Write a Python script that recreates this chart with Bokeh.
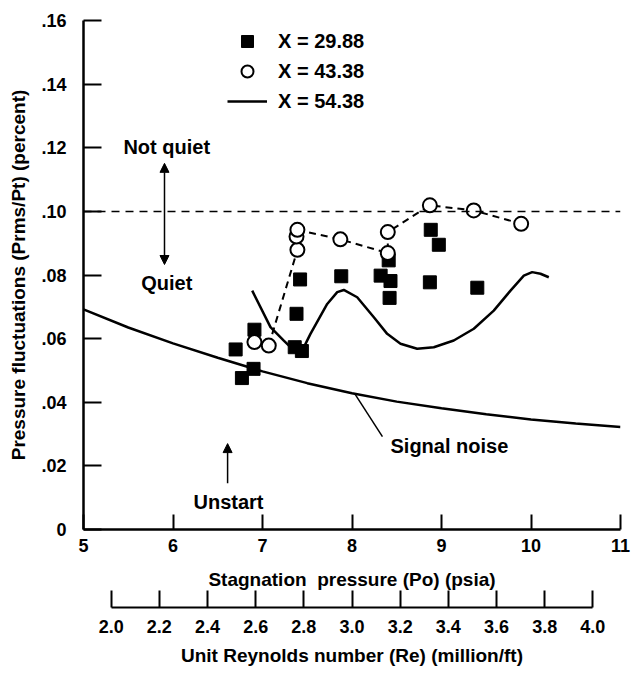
from bokeh.plotting import figure
from bokeh.models import (Range1d, LinearAxis, FixedTicker, CustomJSTickFormatter,
                          PrintfTickFormatter, Span, Label, Arrow, NormalHead,
                          Legend, LegendItem, Title)
from bokeh.layouts import column
from bokeh.embed import file_html
from bokeh.resources import INLINE

# ---------------- data ----------------
# X = 29.88 (filled squares)
sq_x = [6.70, 6.91, 6.90, 6.77, 7.36, 7.44, 7.38, 7.42, 7.88, 8.32, 8.43, 8.42, 8.41, 8.88, 8.97, 8.87, 9.40]
sq_y = [0.0566, 0.0628, 0.0505, 0.0476, 0.0573, 0.0561, 0.0678, 0.0786, 0.0796, 0.0798, 0.0781,
        0.0728, 0.0846, 0.0942, 0.0895, 0.0777, 0.0760]

# X = 43.38 (open circles)
cir_x = [6.91, 7.07, 7.39, 7.38, 7.39, 7.87, 8.40, 8.40, 8.87, 9.36, 9.89]
cir_y = [0.0589, 0.0578, 0.0879, 0.0921, 0.0942, 0.0912, 0.0869, 0.0935, 0.1019, 0.1003, 0.0961]

# X = 54.38 (solid curve)
c54_x = [6.885, 7.089, 7.238, 7.350, 7.425, 7.536, 7.723, 7.835, 7.908, 8.058, 8.244, 8.393,
         8.542, 8.728, 8.914, 9.137, 9.361, 9.584, 9.771, 9.920, 10.013, 10.106, 10.199]
c54_y = [0.0751, 0.0636, 0.0594, 0.0563, 0.0552, 0.0615, 0.0709, 0.0746, 0.0753, 0.0730, 0.0667,
         0.0615, 0.0584, 0.0568, 0.0573, 0.0594, 0.0631, 0.0688, 0.0751, 0.0798, 0.0809, 0.0804, 0.0793]

# Signal noise curve
sig_x = [5.0, 5.5, 6.0, 6.5, 7.0, 7.5, 8.0, 8.5, 9.0, 9.5, 10.0, 10.5, 11.0]
sig_y = [0.0692, 0.0635, 0.0585, 0.0540, 0.0497, 0.0460, 0.0428, 0.0402, 0.0381, 0.0362,
         0.0346, 0.0333, 0.0322]

quiet_limit = 0.10

p_ticks = [5, 6, 7, 8, 9, 10, 11]
y_ticks = [0, 0.02, 0.04, 0.06, 0.08, 0.10, 0.12, 0.14, 0.16]
re_ticks = [2.0, 2.2, 2.4, 2.6, 2.8, 3.0, 3.2, 3.4, 3.6, 3.8, 4.0]
# Reynolds number at the left (Po = 5) and right (Po = 11) ends of the plot
re_at_p5 = 1.885
re_at_p11 = 4.115

legend_labels = ["X = 29.88", "X = 43.38", "X = 54.38"]
x_title = "Stagnation\u00a0 pressure (Po) (psia)"
y_title = "Pressure fluctuations (Prms/Pt) (percent)"
re_title = "Unit Reynolds number (Re) (million/ft)"

# ---------------- styling ----------------
FONT = "Liberation Sans"
TICK_FS = "18px"
TITLE_FS = "19px"
ANN_FS = "20px"

p = figure(frame_width=537, frame_height=509,
           min_border_left=83, min_border_right=17, min_border_top=20, min_border_bottom=31,
           x_range=Range1d(5, 11), y_range=Range1d(0, 0.16),
           toolbar_location=None, output_backend="svg")
p.outline_line_color = None
p.xgrid.visible = False
p.ygrid.visible = False
p.background_fill_color = "white"
p.border_fill_color = "white"

xa = p.xaxis[0]
xa.ticker = FixedTicker(ticks=p_ticks)
ya = p.yaxis[0]
ya.ticker = FixedTicker(ticks=y_ticks)
ya.formatter = CustomJSTickFormatter(
    code="return tick == 0 ? '0' : tick.toFixed(2).replace(/^0/, '');")
ya.axis_label = y_title


def style_axis(ax, tin):
    ax.major_tick_in = tin
    ax.major_tick_out = 0
    ax.minor_tick_in = 0
    ax.minor_tick_out = 0
    ax.axis_line_width = 2.5
    ax.major_tick_line_width = 2
    ax.axis_line_color = "black"
    ax.major_tick_line_color = "black"
    ax.major_label_text_font = FONT
    ax.major_label_text_font_style = "bold"
    ax.major_label_text_font_size = TICK_FS
    ax.major_label_text_color = "black"
    ax.axis_label_text_font = FONT
    ax.axis_label_text_font_style = "bold"
    ax.axis_label_text_font_size = TITLE_FS
    ax.axis_label_text_color = "black"


style_axis(xa, 15)
style_axis(ya, 18)
xa.major_label_standoff = 9
ya.major_label_standoff = 17
ya.axis_label_standoff = 9

p.add_layout(Span(location=quiet_limit, dimension="width", line_color="black",
                  line_width=1.5, line_dash="8 6"))

p.line(sig_x, sig_y, line_color="black", line_width=2.5)
l54 = p.line(c54_x, c54_y, line_color="black", line_width=2.5)
p.line(cir_x[1:], cir_y[1:], line_color="black", line_width=2, line_dash="7 5")
sq = p.scatter(sq_x, sq_y, marker="square", size=13, fill_color="black", line_color="black")
ci = p.scatter(cir_x, cir_y, marker="circle", size=14, fill_color="white",
               line_color="black", line_width=2)

legend = Legend(items=[LegendItem(label=legend_labels[0], renderers=[sq]),
                       LegendItem(label=legend_labels[1], renderers=[ci]),
                       LegendItem(label=legend_labels[2], renderers=[l54])],
                location=(144, 413), glyph_width=40, glyph_height=30, label_height=30,
                spacing=0, padding=0, margin=0, label_standoff=11,
                border_line_color=None, background_fill_alpha=0,
                label_text_font=FONT, label_text_font_style="bold",
                label_text_font_size=ANN_FS, label_text_color="black")
p.add_layout(legend)


def lab(x, y, t, align="center"):
    p.add_layout(Label(x=x, y=y, text=t, text_align=align, text_baseline="middle",
                       text_font=FONT, text_font_style="bold", text_font_size=ANN_FS,
                       text_color="black"))


lab(5.93, 0.1201, "Not quiet")
lab(5.93, 0.0776, "Quiet")
lab(6.62, 0.0085, "Unstart")
lab(8.43, 0.0264, "Signal noise", "left")

p.add_layout(Arrow(x_start=5.905, y_start=0.0833, x_end=5.905, y_end=0.1151,
                   start=NormalHead(size=9, fill_color="black", line_color="black"),
                   end=NormalHead(size=9, fill_color="black", line_color="black"),
                   line_width=1.5, line_color="black"))
p.add_layout(Arrow(x_start=6.61, y_start=0.0145, x_end=6.61, y_end=0.0270,
                   end=NormalHead(size=9, fill_color="black", line_color="black"),
                   line_width=1.5, line_color="black"))
p.add_layout(Arrow(x_start=8.03, y_start=0.0427, x_end=8.34, y_end=0.0292,
                   end=None, line_width=1.5, line_color="black"))

# ---------------- Reynolds-number axis (with the Po title above it) ----------------
q = figure(frame_width=537, frame_height=18,
           min_border_left=83, min_border_right=17, min_border_top=29, min_border_bottom=4,
           x_range=Range1d(re_at_p5, re_at_p11), y_range=Range1d(0, 1),
           x_axis_type=None, y_axis_type=None,
           toolbar_location=None, output_backend="svg")
q.outline_line_color = None
q.background_fill_color = "white"
q.border_fill_color = "white"
q.add_layout(Title(text=x_title, align="center", standoff=0, text_font=FONT,
                   text_font_style="bold", text_font_size=TITLE_FS, text_color="black"),
             "above")
ra = LinearAxis(ticker=FixedTicker(ticks=re_ticks), formatter=PrintfTickFormatter(format="%.1f"),
                bounds=(2.0, 4.0), axis_label=re_title)
style_axis(ra, 17)
ra.axis_line_width = 2
ra.major_label_standoff = 12
ra.axis_label_standoff = 9
q.add_layout(ra, "below")

layout = column(p, q)
open("out.html", "w").write(file_html(layout, INLINE))
